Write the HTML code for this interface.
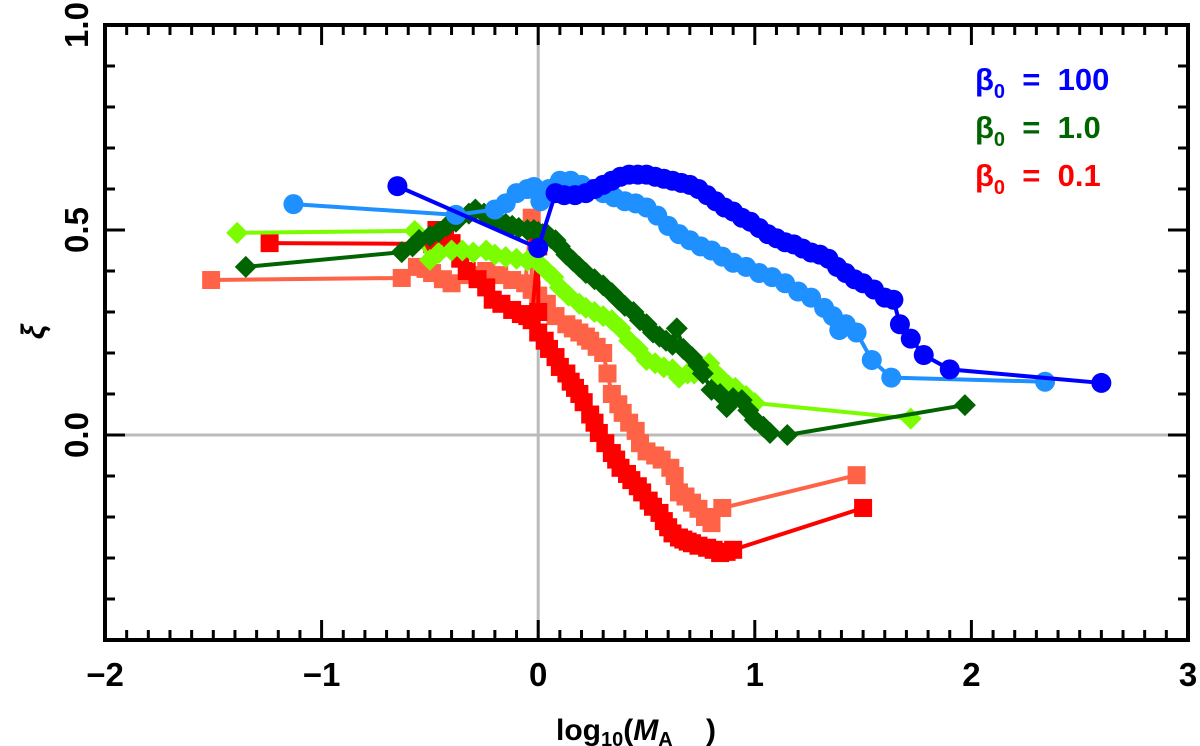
<!DOCTYPE html>
<html><head><meta charset="utf-8"><style>
html,body{margin:0;padding:0;background:#fff;}
svg{display:block;font-family:"Liberation Sans",sans-serif;}
</style></head><body>
<svg id="chart" width="1200" height="746" viewBox="0 0 1200 746" xmlns="http://www.w3.org/2000/svg">
<g id="grid"></g>
<g id="series"></g>
<g id="axes"></g>
<g font-weight="bold" font-size="31">
<text x="975" y="90" fill="#0000ff">β<tspan font-size="20" dy="8">0</tspan><tspan dy="-8" xml:space="preserve">  =  100</tspan></text>
<text x="975" y="138" fill="#006400">β<tspan font-size="20" dy="8">0</tspan><tspan dy="-8" xml:space="preserve">  =  1.0</tspan></text>
<text x="975" y="186" fill="#ff0000">β<tspan font-size="20" dy="8">0</tspan><tspan dy="-8" xml:space="preserve">  =  0.1</tspan></text>
</g>
<text x="556" y="740" font-size="30" font-weight="bold" xml:space="preserve">log<tspan font-size="20" dy="6">10</tspan><tspan dy="-6">(</tspan><tspan font-style="italic">M</tspan><tspan font-size="20" dy="6">A</tspan><tspan dy="-6">    )</tspan></text>
<text transform="translate(44,332) rotate(-90)" font-size="32" font-weight="bold" font-style="italic" text-anchor="middle">ξ</text>
</svg>
<script>
const xTicks=[-2,-1,0,1,2,3];
const yTicks=[0.0,0.5,1.0];
const yTickLabels=["0.0","0.5","1.0"];
const darkBlueX=[-0.65,0,.08,.12,.17,.22,.26,.3,.34,.38,.42,.46,.5,.54,.58,.62,.66,.7,.74,.78,.82,.86,.9,.94,.98,1.02,1.06,1.1,1.14,1.18,1.22,1.26,1.3,1.34,1.38,1.42,1.46,1.5,1.55,1.6,1.64,1.67,1.72,1.78,1.9,2.6];
const darkBlueY=[.607,.456,.59,.585,.585,.59,.6,.61,.62,.63,.635,.635,.635,.63,.625,.62,.615,.61,.6,.585,.57,.555,.545,.53,.52,.505,.49,.48,.47,.465,.455,.445,.44,.43,.41,.395,.38,.37,.355,.335,.33,.27,.235,.195,.16,.127];
const lightBlueX=[-1.13,-0.38,-0.2,-0.15,-0.1,-0.05,-0.02,0.01,0.05,0.1,0.15,0.2,0.25,0.3,0.35,0.4,0.45,0.5,0.55,0.6,0.65,0.7,0.75,0.8,0.85,0.9,0.96,1.02,1.08,1.14,1.2,1.26,1.32,1.36,1.39,1.42,1.47,1.54,1.63,2.34];
const lightBlueY=[.563,.537,.55,.565,.59,.6,.605,.57,.6,.62,.62,.61,.6,.59,.58,.57,.565,.555,.535,.51,.49,.475,.46,.45,.435,.42,.41,.395,.385,.37,.35,.335,.31,.29,.256,.27,.25,.183,.14,.13];
const darkGreenX=[-1.35,-0.63,-0.58,-0.55,-0.5,-0.46,-0.42,-0.38,-0.36,-0.32,-0.29,-0.25,-0.22,-0.19,-0.15,-0.12,-0.09,-0.05,-0.02,0,0.02,0.04,0.06,0.08,0.1,0.13,0.16,0.19,0.22,0.26,0.3,0.34,0.37,0.4,0.44,0.47,0.5,0.53,0.56,0.59,0.62,0.64,0.67,0.71,0.74,0.76,0.8,0.84,0.87,0.9,0.94,0.97,1.0,1.04,1.07,1.15,1.97];
const darkGreenY=[.41,.446,.46,.476,.485,.495,.51,.52,.532,.54,.55,.54,.53,.524,.515,.51,.505,.5,.5,.495,.49,.49,.48,.475,.46,.44,.425,.41,.395,.38,.365,.346,.33,.315,.3,.28,.27,.25,.24,.23,.22,.26,.21,.19,.17,.15,.11,.1,.068,.09,.085,.06,.037,.02,.005,0,.073];
const lightGreenX=[-1.39,-0.57,-0.5,-0.46,-0.4,-0.35,-0.3,-0.24,-0.2,-0.15,-0.1,-0.05,0,0.04,0.07,0.1,0.14,0.19,0.22,0.26,0.3,0.34,0.38,0.42,0.46,0.5,0.54,0.58,0.62,0.65,0.69,0.72,0.76,0.79,0.8,0.84,0.88,0.91,0.96,1.0,1.72];
const lightGreenY=[.493,.498,.427,.444,.45,.45,.445,.45,.44,.434,.43,.425,.42,.4,.385,.36,.34,.32,.31,.3,.29,.28,.26,.23,.21,.183,.175,.165,.16,.14,.15,.15,.165,.175,.16,.14,.12,.115,.095,.078,.04];
const redX=[-1.24,-0.49,-0.47,-0.43,-0.4,-0.36,-0.33,-0.28,-0.24,-0.21,-0.17,-0.12,-0.08,-0.05,-0.03,0,0,0,0.03,0.05,0.08,0.1,0.13,0.15,0.17,0.19,0.21,0.24,0.26,0.28,0.31,0.34,0.36,0.38,0.41,0.43,0.46,0.48,0.51,0.53,0.56,0.58,0.6,0.62,0.65,0.67,0.69,0.71,0.74,0.78,0.81,0.84,0.87,0.9,1.5];
const redY=[.468,.466,.5,.485,.468,.43,.4,.38,.36,.33,.32,.305,.295,.29,.28,.46,.3,.25,.23,.21,.19,.166,.15,.13,.115,.1,.08,.05,.03,.005,-.02,-.044,-.06,-.08,-.095,-.11,-.125,-.14,-.16,-.175,-.19,-.21,-.225,-.24,-.25,-.255,-.26,-.264,-.27,-.275,-.28,-.288,-.285,-.28,-.178];
const salmonX=[-1.51,-0.63,-0.56,-0.52,-0.49,-0.44,-0.4,-0.32,-0.24,-0.18,-0.12,-0.06,-0.03,-0.03,0,0.04,0.08,0.13,0.16,0.19,0.22,0.24,0.27,0.3,0.32,0.34,0.37,0.39,0.42,0.45,0.47,0.5,0.54,0.57,0.61,0.63,0.65,0.68,0.71,0.74,0.77,0.8,0.85,1.47];
const salmonY=[.378,.383,.41,.405,.395,.38,.37,.39,.4,.39,.378,.37,.53,.354,.34,.32,.29,.27,.26,.25,.24,.23,.215,.2,.15,.1,.075,.054,.03,.01,-.02,-.04,-.05,-.06,-.08,-.1,-.14,-.15,-.165,-.18,-.2,-.215,-.178,-.098];
const L=105,R=1188,T=25,B=640;
const xs=v=>L+(v+2)/5*(R-L);
const ys=v=>B-(v+0.5)/1.5*(B-T);
const NS="http://www.w3.org/2000/svg";
function mk(tag,attrs,parent){const e=document.createElementNS(NS,tag);for(const k in attrs)e.setAttribute(k,attrs[k]);parent.appendChild(e);return e;}
const grid=document.getElementById('grid'),ser=document.getElementById('series'),ax=document.getElementById('axes');
let g=mk('line',{x1:xs(0),x2:xs(0),y1:T,y2:B,stroke:'#bbb','stroke-width':3},grid);


g=mk('line',{x1:L,x2:R,y1:ys(0),y2:ys(0),stroke:'#bbb','stroke-width':3},grid);


function drawSeries(name,X,Y,color,shape){
  const grp=mk('g',{},ser);
  
  
  const pts=X.map((x,i)=>xs(x)+','+ys(Y[i])).join(' ');
  const pl=mk('polyline',{points:pts,fill:'none',stroke:color,'stroke-width':4},grp);
  
  
  X.forEach((x,i)=>{
    const cx=xs(x),cy=ys(Y[i]);let m;
    if(shape==='circle')m=mk('circle',{cx:cx,cy:cy,r:10,fill:color},grp);
    else if(shape==='square')m=mk('rect',{x:cx-9,y:cy-9,width:18,height:18,fill:color},grp);
    else m=mk('polygon',{points:`${cx},${cy-11} ${cx+11},${cy} ${cx},${cy+11} ${cx-11},${cy}`,fill:color},grp);
    
    
  });
}
drawSeries('series-salmon',salmonX,salmonY,'#ff6347','square');
drawSeries('series-red',redX,redY,'#ff0000','square');
drawSeries('series-light-green',lightGreenX,lightGreenY,'#7cfc00','diamond');
drawSeries('series-dark-green',darkGreenX,darkGreenY,'#006400','diamond');
drawSeries('series-light-blue',lightBlueX,lightBlueY,'#1e90ff','circle');
drawSeries('series-dark-blue',darkBlueX,darkBlueY,'#0000ff','circle');
const fr=mk('rect',{x:L,y:T,width:R-L,height:B-T,fill:'none',stroke:'#000','stroke-width':4},ax);


for(let k=-20;k<=30;k++){const v=k/10,x=xs(v),major=k%10===0,len=major?20:10;
  mk('line',{x1:x,x2:x,y1:B,y2:B-len,stroke:'#000','stroke-width':3},ax);
  mk('line',{x1:x,x2:x,y1:T,y2:T+len,stroke:'#000','stroke-width':3},ax);}
for(let k=-5;k<=10;k++){const v=k/10,y=ys(v),major=k%5===0,len=major?20:10;
  mk('line',{x1:L,x2:L+len,y1:y,y2:y,stroke:'#000','stroke-width':3},ax);
  mk('line',{x1:R,x2:R-len,y1:y,y2:y,stroke:'#000','stroke-width':3},ax);}
xTicks.forEach(v=>{const t=mk('text',{x:xs(v),y:686,'text-anchor':'middle','font-size':33,'font-weight':'bold'},ax);t.textContent=(v<0?'\u2212'+(-v):String(v));
  
  });
yTicks.forEach((v,i)=>{const t=mk('text',{transform:`translate(88,${ys(v)}) rotate(-90)`,'text-anchor':'middle','font-size':33,'font-weight':'bold'},ax);t.textContent=yTickLabels[i];
  
  });
</script>
</body></html>
